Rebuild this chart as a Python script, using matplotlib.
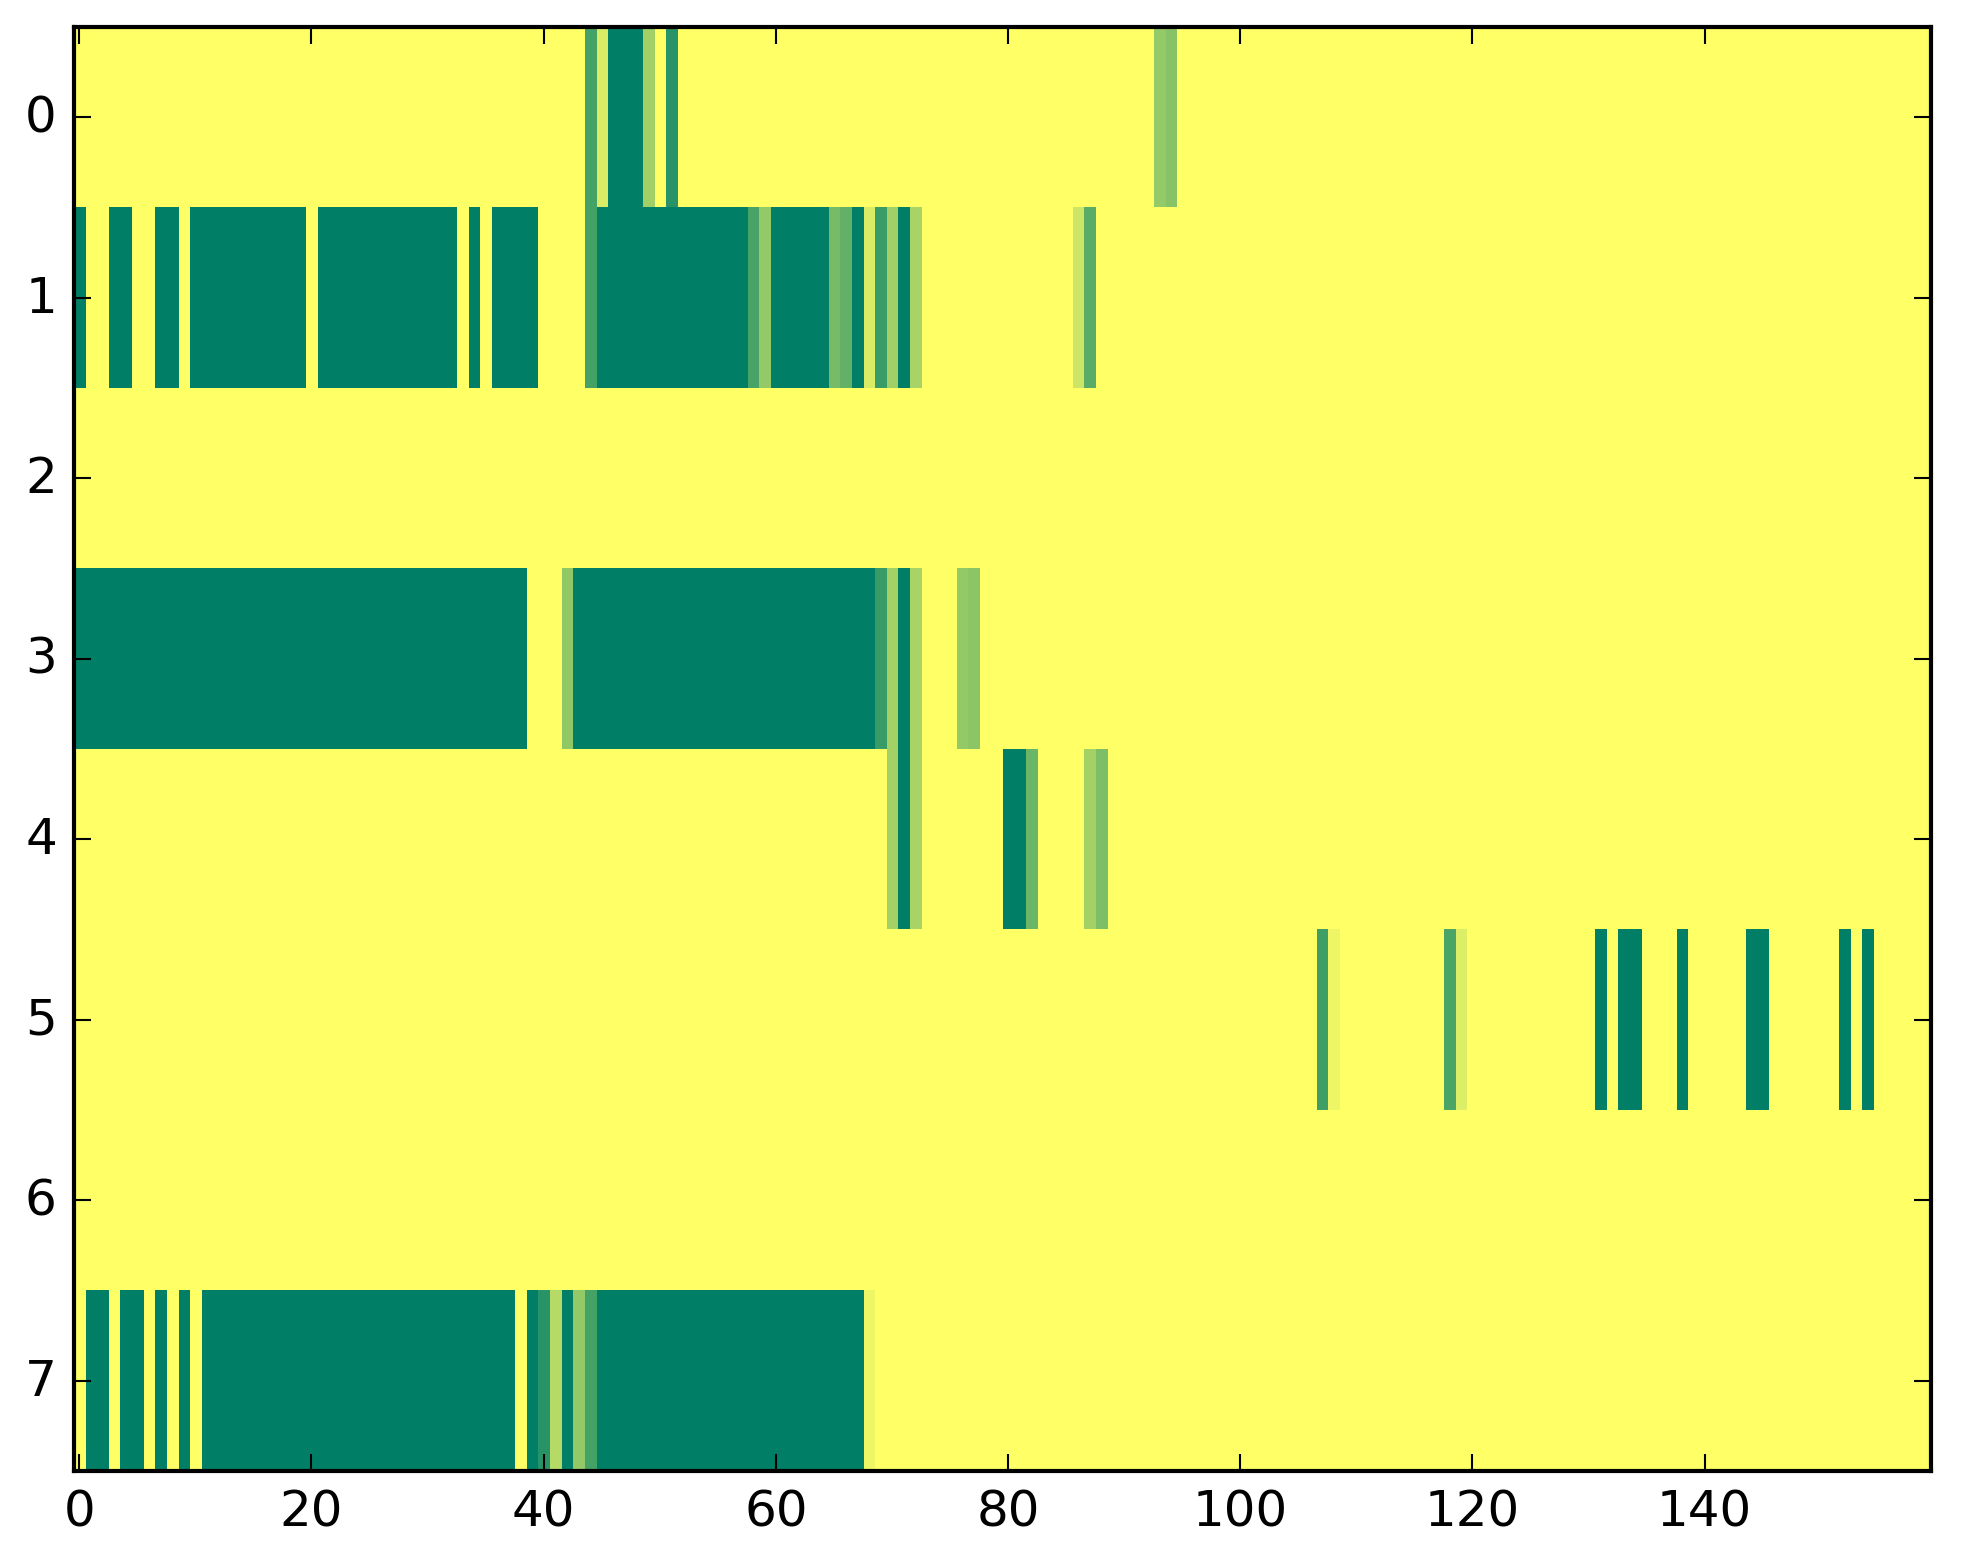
import numpy as np
import matplotlib
matplotlib.use("Agg")
import matplotlib.pyplot as plt

plt.style.use("classic")

n_rows = 8
n_cols = 160

# Runs per row: (first column, last column, value) ; unlisted cells are 0
row0 = [(44, 44, 0.73), (45, 45, 0.15), (46, 48, 1.0), (49, 49, 0.37),
        (51, 51, 0.84), (93, 93, 0.42), (94, 94, 0.47)]
row1 = [(0, 0, 1.0), (3, 4, 1.0), (7, 8, 1.0), (10, 19, 1.0), (21, 32, 1.0),
        (34, 34, 1.0), (36, 39, 1.0), (44, 44, 0.73), (45, 57, 1.0),
        (58, 58, 0.72), (59, 59, 0.42), (60, 64, 1.0), (65, 65, 0.53),
        (66, 66, 0.61), (67, 67, 1.0), (68, 68, 0.15), (69, 69, 0.77),
        (70, 70, 0.37), (71, 71, 1.0), (72, 72, 0.34), (86, 86, 0.20),
        (87, 87, 0.65)]
row2 = []
row3 = [(0, 38, 1.0), (42, 42, 0.43), (43, 68, 1.0), (69, 69, 0.77),
        (70, 70, 0.36), (71, 71, 1.0), (72, 72, 0.34), (76, 76, 0.42),
        (77, 77, 0.45)]
row4 = [(70, 70, 0.36), (71, 71, 1.0), (72, 72, 0.34), (80, 81, 1.0),
        (82, 82, 0.58), (87, 87, 0.36), (88, 88, 0.51)]
row5 = [(107, 107, 0.76), (108, 108, 0.07), (118, 118, 0.71), (119, 119, 0.14),
        (131, 131, 1.0), (133, 134, 1.0), (138, 138, 1.0), (144, 145, 1.0),
        (152, 152, 1.0), (154, 154, 1.0)]
row6 = []
row7 = [(1, 2, 1.0), (4, 5, 1.0), (7, 7, 1.0), (9, 9, 1.0), (11, 37, 1.0),
        (39, 39, 1.0), (40, 40, 0.84), (41, 41, 0.29), (42, 42, 1.0),
        (43, 43, 0.42), (44, 44, 0.73), (45, 67, 1.0), (68, 68, 0.07)]

rows = [row0, row1, row2, row3, row4, row5, row6, row7]
xticks = [0, 20, 40, 60, 80, 100, 120, 140]
yticks = list(range(n_rows))

data = np.zeros((n_rows, n_cols))
for r, runs in enumerate(rows):
    for a, b, v in runs:
        data[r, a:b + 1] = v

W, H = 1963, 1564
dpi = 300
fig = plt.figure(figsize=(W / dpi, H / dpi), dpi=dpi)
fig.patch.set_facecolor("white")
ax = fig.add_axes([73.5 / W, 1 - 1472 / H, (1931 - 73.5) / W, (1472 - 28) / H])
ax.imshow(data, aspect="auto", cmap="summer_r", interpolation="nearest",
          vmin=0, vmax=1)
ax.set_xticks(xticks)
ax.set_yticks(yticks)
ax.set_xlim(-0.5, n_cols - 0.5)
ax.set_ylim(n_rows - 0.5, -0.5)
fig.savefig("out.png", dpi=dpi, facecolor="white")
